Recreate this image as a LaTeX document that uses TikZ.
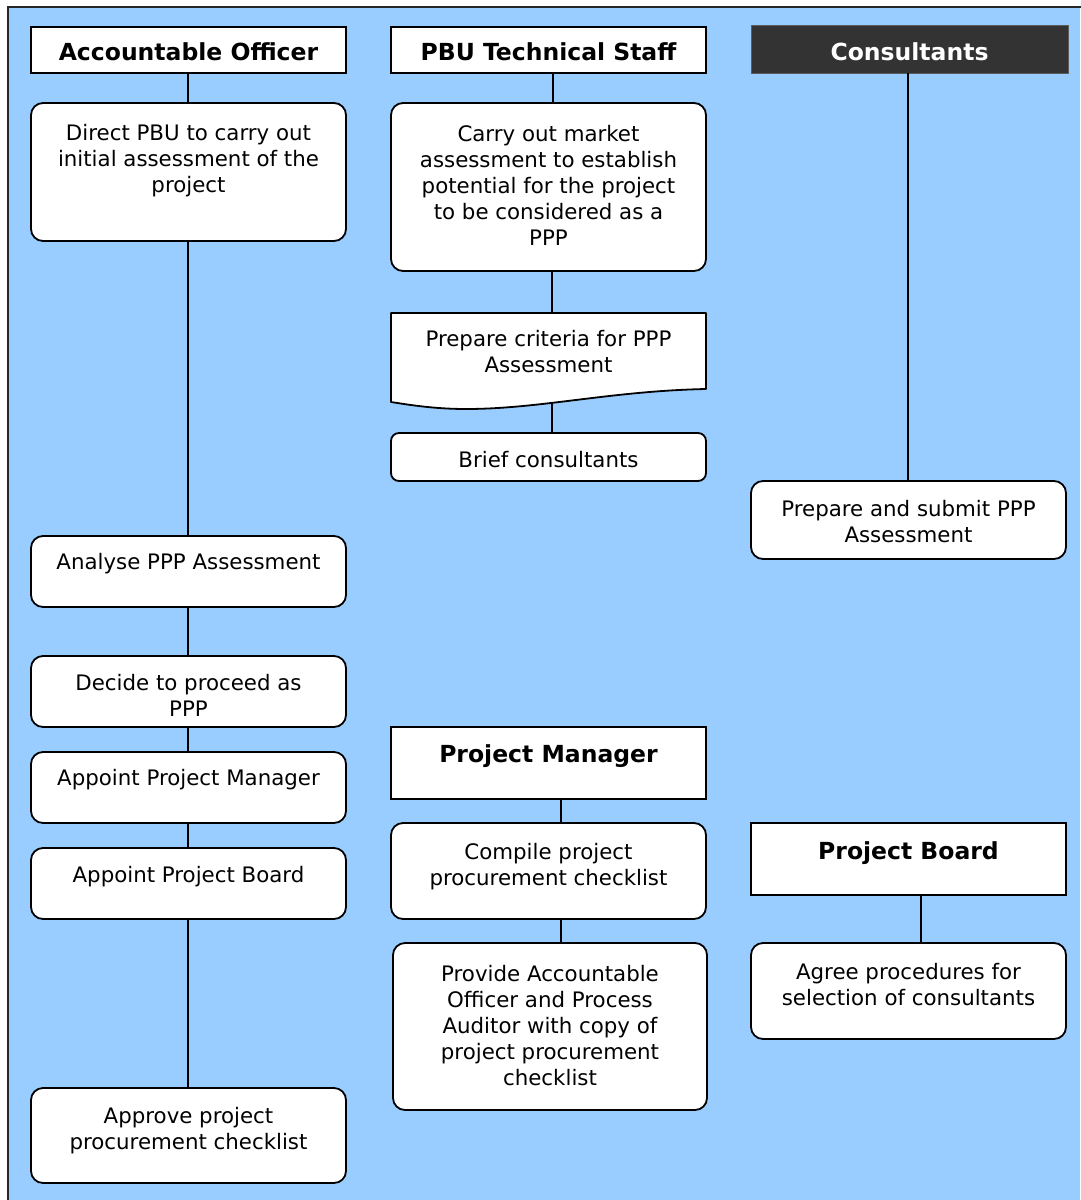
\documentclass[tikz,border=0pt]{standalone}
\usepackage{fontspec}
\setmainfont{DejaVu Sans}
\definecolor{bgblue}{HTML}{99CCFF}
\definecolor{darkhdr}{HTML}{333333}
\tikzset{
  x=1pt, y=1pt,
  frameline/.style={draw=black!85, line width=1.8pt},
  hdrbox/.style={draw=black, fill=white, line width=1.8pt, inner sep=0pt, outer sep=0pt, anchor=north west},
  darkbox/.style={draw=darkhdr!80, fill=darkhdr, line width=1pt, inner sep=0pt, outer sep=0pt, anchor=north west},
  stepbox/.style={draw=black, fill=white, line width=1.8pt, rounded corners=12pt, inner sep=0pt, outer sep=0pt, anchor=north west},
  ghost/.style={inner sep=0pt, outer sep=0pt, anchor=north west},
  txt/.style={align=center, anchor=north, inner sep=0pt, font=\fontsize{21.33}{26}\selectfont},
  hdrtxt/.style={align=center, anchor=north, inner sep=0pt, font=\fontsize{23.5}{28}\selectfont\bfseries},
  conn/.style={draw=black, line width=2pt},
}
\begin{document}
\begin{tikzpicture}
\useasboundingbox (0,0) rectangle (1080,-1200);
\fill[white] (0,0) rectangle (1080,-1200);
\fill[bgblue] (8,-7) rectangle (1080,-1200);
\draw[frameline] (8,-1205) -- (8,-7) -- (1085,-7);

% ---- headers
\node[hdrbox, minimum width=315, minimum height=46] (aoh) at (31,-27) {};
\node[hdrtxt] (aoh-t) at (188.5,-42) {Accountable Officer};
\node[hdrbox, minimum width=315, minimum height=46] (pbuh) at (391,-27) {};
\node[hdrtxt] (pbuh-t) at (548.5,-42) {PBU Technical Staff};
\node[darkbox, minimum width=317, minimum height=48] (conh) at (751,-25) {};
\node[hdrtxt, text=white] (conh-t) at (909.5,-42) {Consultants};

% ---- column 1
\node[stepbox, minimum width=315, minimum height=138] (direct) at (31,-103) {};
\node[txt] (direct-t) at (188.5,-124.5) {Direct PBU to carry out\\initial assessment of the\\project};
\node[stepbox, minimum width=315, minimum height=71] (analyse) at (31,-536) {};
\node[txt] (analyse-t) at (188.5,-553.5) {Analyse PPP Assessment};
\node[stepbox, minimum width=315, minimum height=71] (decide) at (31,-656) {};
\node[txt] (decide-t) at (188.5,-674.5) {Decide to proceed as\\PPP};
\node[stepbox, minimum width=315, minimum height=71] (apm) at (31,-752) {};
\node[txt] (apm-t) at (188.5,-769.5) {Appoint Project Manager};
\node[stepbox, minimum width=315, minimum height=71] (apb) at (31,-848) {};
\node[txt] (apb-t) at (188.5,-866.5) {Appoint Project Board};
\node[stepbox, minimum width=315, minimum height=95] (approve) at (31,-1088) {};
\node[txt] (approve-t) at (188.5,-1107.5) {Approve project\\procurement checklist};

% ---- column 2
\node[stepbox, minimum width=315, minimum height=168] (carry) at (391,-103) {};
\node[txt] (carry-t) at (548.5,-125.5) {Carry out market\\assessment to establish\\potential for the project\\to be considered as a\\PPP};
\node[ghost, minimum width=315, minimum height=89] (crit) at (391,-313) {};
\filldraw[fill=white, draw=black, line width=1.8pt, line join=round]
  (391,-313) -- (706,-313) -- (706,-389)
  .. controls (610,-391) and (540,-409) .. (466,-409)
  .. controls (435,-409) and (410,-405) .. (391,-402) -- cycle;
\node[txt] (crit-t) at (548.5,-330.5) {Prepare criteria for PPP\\Assessment};
\node[stepbox, rounded corners=8pt, minimum width=315, minimum height=48] (brief) at (391,-433) {};
\node[txt] (brief-t) at (548.5,-451.5) {Brief consultants};
\node[hdrbox, minimum width=315, minimum height=72] (pmh) at (391,-727) {};
\node[hdrtxt] (pmh-t) at (548.5,-744) {Project Manager};
\node[stepbox, minimum width=315, minimum height=96] (compile) at (391,-823) {};
\node[txt] (compile-t) at (548.5,-843.5) {Compile project\\procurement checklist};
\node[stepbox, minimum width=314, minimum height=167] (provide) at (393,-943) {};
\node[txt] (provide-t) at (550,-965.5) {Provide Accountable\\Officer and Process\\Auditor with copy of\\project procurement\\checklist};

% ---- column 3
\node[stepbox, minimum width=315, minimum height=78] (submit) at (751,-481) {};
\node[txt] (submit-t) at (908.5,-500.5) {Prepare and submit PPP\\Assessment};
\node[hdrbox, minimum width=315, minimum height=72] (pbh) at (751,-823) {};
\node[hdrtxt] (pbh-t) at (908.5,-841) {Project Board};
\node[stepbox, minimum width=315, minimum height=96] (agree) at (751,-943) {};
\node[txt] (agree-t) at (908.5,-963.5) {Agree procedures for\\selection of consultants};

% ---- connectors
\draw[conn] ([xshift=-0.5]aoh.south) -- ([xshift=-0.5]direct.north);
\draw[conn] ([xshift=-0.5]direct.south) -- ([xshift=-0.5]analyse.north);
\draw[conn] ([xshift=-0.5]analyse.south) -- ([xshift=-0.5]decide.north);
\draw[conn] ([xshift=-0.5]decide.south) -- ([xshift=-0.5]apm.north);
\draw[conn] ([xshift=-0.5]apm.south) -- ([xshift=-0.5]apb.north);
\draw[conn] ([xshift=-0.5]apb.south) -- ([xshift=-0.5]approve.north);
\draw[conn] ([xshift=4.5]pbuh.south) -- ([xshift=4.5]carry.north);
\draw[conn] ([xshift=3.5]carry.south) -- ([xshift=3.5]crit.north);
\draw[conn] ([xshift=3.5]crit.south) -- ([xshift=3.5]brief.north);
\draw[conn] ([xshift=-1.5]conh.south) -- ([xshift=-0.5]submit.north);
\draw[conn] ([xshift=12.5]pmh.south) -- ([xshift=12.5]compile.north);
\draw[conn] ([xshift=12.5]compile.south) -- ([xshift=11]provide.north);
\draw[conn] ([xshift=12.5]pbh.south) -- ([xshift=12.5]agree.north);
\end{tikzpicture}
\end{document}
